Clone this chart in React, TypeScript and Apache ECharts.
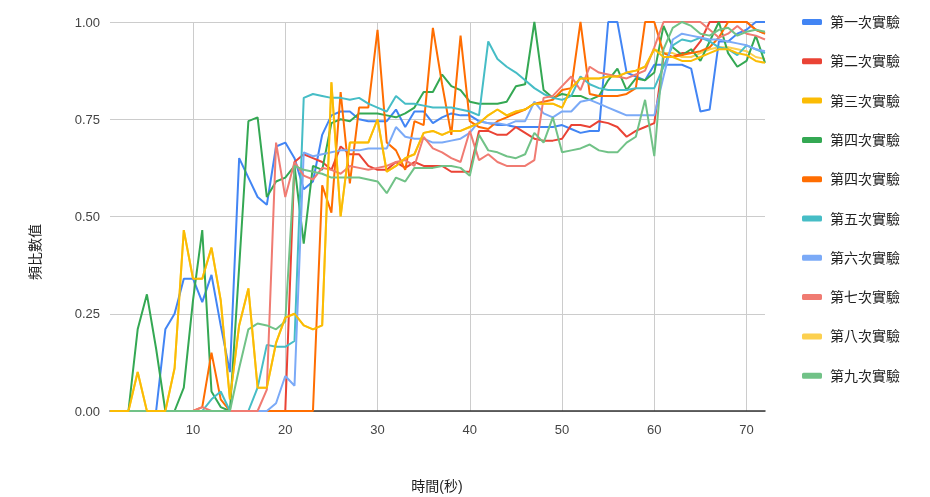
import React, { useEffect, useRef } from "react";
import * as echarts from "echarts";

const FONT = "Arial, 'Liberation Sans', 'Noto Sans CJK TC', sans-serif";

const seconds = Array.from({ length: 72 }, (_, i) => i + 1);
const xTickValues = [10, 20, 30, 40, 50, 60, 70];

const seriesKeys = ["s1", "s2", "s3", "s4", "s5", "s6", "s7", "s8", "s9", "s10"];
const legendLabels = [
  "第一次實驗",
  "第二次實驗",
  "第三次實驗",
  "第四次實驗",
  "第四次實驗",
  "第五次實驗",
  "第六次實驗",
  "第七次實驗",
  "第八次實驗",
  "第九次實驗",
];
const colors = [
  "#4285F4",
  "#EA4335",
  "#FBBC04",
  "#34A853",
  "#FF6D01",
  "#46BDC6",
  "#7BAAF7",
  "#F07B72",
  "#FCD04F",
  "#71C287",
];

const run1 = [
  0, 0, 0, 0, 0, 0, 0.21, 0.25, 0.34, 0.34,
  0.28, 0.35, 0.22, 0.1, 0.65, 0.6, 0.55, 0.53, 0.68, 0.69,
  0.65, 0.57, 0.59, 0.71, 0.76, 0.77, 0.77, 0.75, 0.745, 0.745,
  0.745, 0.775, 0.73, 0.77, 0.77, 0.74, 0.755, 0.765, 0.76, 0.76,
  0.745, 0.74, 0.735, 0.735, 0.73, 0.73, 0.73, 0.73, 0.73, 0.735,
  0.725, 0.715, 0.72, 0.72, 1.0, 1.0, 0.87, 0.86, 0.85, 0.89,
  0.89, 0.89, 0.89, 0.88, 0.77, 0.775, 0.95, 0.95, 0.97, 0.98,
  1.0, 1.0,
];
const run2 = [
  0, 0, 0, 0, 0, 0, 0, 0, 0, 0,
  0, 0, 0, 0, 0, 0, 0, 0, 0, 0,
  0.64, 0.66, 0.65, 0.64, 0.62, 0.68, 0.66, 0.66, 0.63, 0.62,
  0.62, 0.64, 0.625, 0.64, 0.63, 0.63, 0.63, 0.615, 0.615, 0.615,
  0.72, 0.72, 0.71, 0.71, 0.73, 0.715, 0.7, 0.695, 0.695, 0.7,
  0.735, 0.735, 0.73, 0.745, 0.74, 0.73, 0.705, 0.72, 0.73, 0.74,
  0.91, 0.91, 0.92, 0.92, 0.95, 1.0, 1.0, 1.0, 1.0, 1.0,
  0.98, 0.97,
];
const run3 = [
  0, 0, 0, 0.1, 0, 0, 0, 0.11, 0.465, 0.34,
  0.34, 0.42, 0.285, 0.03, 0.22, 0.315, 0.06, 0.06, 0.175, 0.24,
  0.25, 0.22, 0.21, 0.22, 0.845, 0.5, 0.69, 0.69, 0.69, 0.75,
  0.615, 0.63, 0.65, 0.66, 0.715, 0.72, 0.71, 0.72, 0.72, 0.73,
  0.74, 0.76, 0.775, 0.76, 0.77, 0.775, 0.79, 0.79, 0.79, 0.78,
  0.83, 0.855, 0.855, 0.855, 0.86, 0.86, 0.87, 0.875, 0.885, 0.93,
  0.91, 0.91, 0.9, 0.9, 0.91, 0.92, 0.93, 0.93, 0.92, 0.915,
  0.9, 0.895,
];
const run4a = [
  0, 0, 0, 0.21, 0.3, 0.16, 0, 0, 0.06, 0.285,
  0.465, 0.05, 0.01, 0, 0.37, 0.745, 0.755, 0.55, 0.59, 0.6,
  0.63, 0.43, 0.63, 0.62, 0.74, 0.75, 0.745, 0.765, 0.765, 0.765,
  0.76, 0.755, 0.765, 0.78, 0.82, 0.82, 0.865, 0.835, 0.825, 0.795,
  0.79, 0.79, 0.79, 0.795, 0.835, 0.84, 1.0, 0.825, 0.805, 0.815,
  0.81, 0.81, 0.8, 0.81, 0.85, 0.88, 0.825, 0.855, 0.85, 0.87,
  0.99, 0.935, 0.915, 0.93, 0.9, 0.95, 1.0, 0.92, 0.885, 0.9,
  0.965, 0.895,
];
const run4b = [
  0, 0, 0, 0, 0, 0, 0, 0, 0, 0,
  0.01, 0.15, 0.03, 0, 0, 0, 0, 0, 0, 0,
  0, 0, 0, 0.58, 0.51, 0.82, 0.585, 0.78, 0.78, 0.98,
  0.69, 0.67, 0.62, 0.745, 0.735, 0.985, 0.84, 0.71, 0.965, 0.745,
  0.73, 0.725, 0.745, 0.755, 0.765, 0.775, 0.79, 0.795, 0.8, 0.825,
  0.83, 1.0, 0.815, 0.81, 0.81, 0.81, 0.815, 0.83, 1.0, 1.0,
  0.92, 0.91, 0.915, 0.92, 0.925, 0.935, 0.96, 1.0, 1.0, 1.0,
  0.98, 0.97,
];
const run5 = [
  0, 0, 0, 0, 0, 0, 0, 0, 0, 0,
  0, 0.03, 0.05, 0, 0, 0, 0.06, 0.17, 0.165, 0.165,
  0.18, 0.805, 0.815, 0.81, 0.805, 0.805, 0.8, 0.805, 0.79, 0.78,
  0.77, 0.81, 0.79, 0.79, 0.785, 0.78, 0.78, 0.78, 0.775, 0.77,
  0.76, 0.95, 0.905, 0.885, 0.87, 0.85, 0.83, 0.815, 0.805, 0.8,
  0.81, 0.86, 0.84, 0.83, 0.825, 0.825, 0.825, 0.83, 0.83, 0.83,
  0.885, 0.94, 0.955, 0.95, 0.96, 0.95, 0.935, 0.93, 0.915, 0.94,
  0.93, 0.92,
];
const run6 = [
  0, 0, 0, 0, 0, 0, 0, 0, 0, 0,
  0, 0, 0, 0, 0, 0, 0, 0, 0.02, 0.09,
  0.065, 0.665, 0.655, 0.66, 0.665, 0.67, 0.67, 0.67, 0.675, 0.675,
  0.675, 0.73, 0.705, 0.7, 0.7, 0.69, 0.69, 0.695, 0.7, 0.715,
  0.745, 0.74, 0.74, 0.735, 0.745, 0.745, 0.795, 0.765, 0.755, 0.77,
  0.77, 0.795, 0.8, 0.79, 0.78, 0.77, 0.76, 0.76, 0.76, 0.76,
  0.86, 0.955, 0.97, 0.965, 0.96, 0.955, 0.955, 0.95, 0.945, 0.94,
  0.93, 0.925,
];
const run7 = [
  0, 0, 0, 0, 0, 0, 0, 0, 0, 0,
  0.01, 0, 0, 0, 0, 0, 0, 0.055, 0.69, 0.55,
  0.64, 0.605, 0.595, 0.625, 0.62, 0.61, 0.63, 0.625, 0.62, 0.625,
  0.63, 0.64, 0.645, 0.63, 0.705, 0.675, 0.665, 0.65, 0.64, 0.72,
  0.645, 0.66, 0.64, 0.63, 0.63, 0.63, 0.645, 0.805, 0.81, 0.835,
  0.86, 0.825, 0.885, 0.87, 0.865, 0.86, 0.855, 0.865, 0.875, 0.935,
  1.0, 1.0, 1.0, 1.0, 1.0, 0.98, 0.96, 0.97, 0.99, 0.97,
  0.965, 0.955,
];
const run8 = [
  0, 0, 0, 0.1, 0, 0, 0, 0.11, 0.465, 0.34,
  0.34, 0.42, 0.285, 0.03, 0.22, 0.315, 0.06, 0.06, 0.175, 0.24,
  0.25, 0.22, 0.21, 0.22, 0.845, 0.5, 0.69, 0.69, 0.69, 0.75,
  0.615, 0.63, 0.65, 0.66, 0.715, 0.72, 0.71, 0.72, 0.72, 0.73,
  0.74, 0.76, 0.775, 0.76, 0.77, 0.775, 0.79, 0.79, 0.79, 0.78,
  0.83, 0.855, 0.855, 0.855, 0.86, 0.86, 0.87, 0.875, 0.885, 0.93,
  0.92, 0.92, 0.91, 0.91, 0.92, 0.93, 0.935, 0.935, 0.93, 0.925,
  0.91, 0.905,
];
const run9 = [
  0, 0, 0, 0, 0, 0, 0, 0, 0, 0,
  0, 0, 0, 0, 0.11, 0.21, 0.225, 0.22, 0.21, 0.23,
  0.63, 0.62, 0.615, 0.61, 0.6, 0.6, 0.6, 0.6, 0.595, 0.59,
  0.56, 0.6, 0.59, 0.625, 0.625, 0.625, 0.63, 0.63, 0.625, 0.605,
  0.71, 0.67, 0.665, 0.655, 0.65, 0.66, 0.715, 0.69, 0.755, 0.665,
  0.67, 0.675, 0.685, 0.67, 0.665, 0.665, 0.69, 0.705, 0.8, 0.655,
  0.93, 0.985, 1.0, 0.99, 0.97, 0.965, 0.98, 0.985, 0.965, 0.975,
  0.98, 0.975,
];

const runs = [run1, run2, run3, run4a, run4b, run5, run6, run7, run8, run9];
const zOrder = [2, 2, 3, 2, 2, 2, 2, 2, 1, 2];

export default function App() {
  const ref = useRef<HTMLDivElement>(null);

  useEffect(() => {
    if (!ref.current) return;
    const chart = echarts.init(ref.current, undefined, { renderer: "svg" });
    const labelOf: Record<string, string> = {};
    seriesKeys.forEach((k, i) => (labelOf[k] = legendLabels[i]));

    chart.setOption({
      animation: false,
      textStyle: { fontFamily: FONT },
      grid: { left: 110, right: 165, top: 22, bottom: 86, containLabel: false },
      xAxis: {
        type: "value",
        min: 1,
        max: 72,
        axisLine: { show: true, lineStyle: { color: "#333333", width: 1.5 } },
        axisTick: { show: false, customValues: xTickValues },
        axisLabel: {
          customValues: xTickValues,
          color: "#444444",
          fontSize: 13,
          margin: 12,
          fontFamily: FONT,
        },
        splitLine: { show: true, lineStyle: { color: "#cccccc", width: 1 } },
      },
      yAxis: {
        type: "value",
        min: 0,
        max: 1,
        interval: 0.25,
        axisLine: { show: false },
        axisTick: { show: false },
        axisLabel: {
          formatter: (v: number) => v.toFixed(2),
          color: "#444444",
          fontSize: 13,
          margin: 10,
          fontFamily: FONT,
        },
        splitLine: { show: true, lineStyle: { color: "#cccccc", width: 1 } },
      },
      legend: {
        orient: "vertical",
        left: 797,
        top: 7,
        icon: "roundRect",
        itemWidth: 20,
        itemHeight: 6,
        itemGap: 19.3,
        selectedMode: false,
        data: seriesKeys,
        formatter: (name: string) => labelOf[name],
        textStyle: {
          fontSize: 14,
          color: "#222222",
          lineHeight: 20,
          padding: [0, 0, 0, 3],
          fontFamily: FONT,
        },
      },
      graphic: [
        {
          type: "text",
          x: 437,
          y: 486,
          style: {
            text: "時間(秒)",
            align: "center",
            verticalAlign: "middle",
            fontSize: 14,
            fill: "#222222",
            fontFamily: FONT,
          },
        },
        {
          type: "text",
          x: 35,
          y: 252,
          rotation: Math.PI / 2,
          style: {
            text: "頻比數值",
            align: "center",
            verticalAlign: "middle",
            fontSize: 14,
            fill: "#222222",
            fontFamily: FONT,
          },
        },
      ],
      series: seriesKeys.map((key, i) => ({
        name: key,
        type: "line",
        data: runs[i].map((v, j) => [seconds[j], v]),
        symbol: "none",
        showSymbol: false,
        z: zOrder[i],
        lineStyle: { width: 2, color: colors[i] },
        itemStyle: { color: colors[i] },
      })),
    });

    return () => chart.dispose();
  }, []);

  return (
    <div
      ref={ref}
      style={{ position: "fixed", left: 0, top: 0, width: 930, height: 497 }}
    />
  );
}
